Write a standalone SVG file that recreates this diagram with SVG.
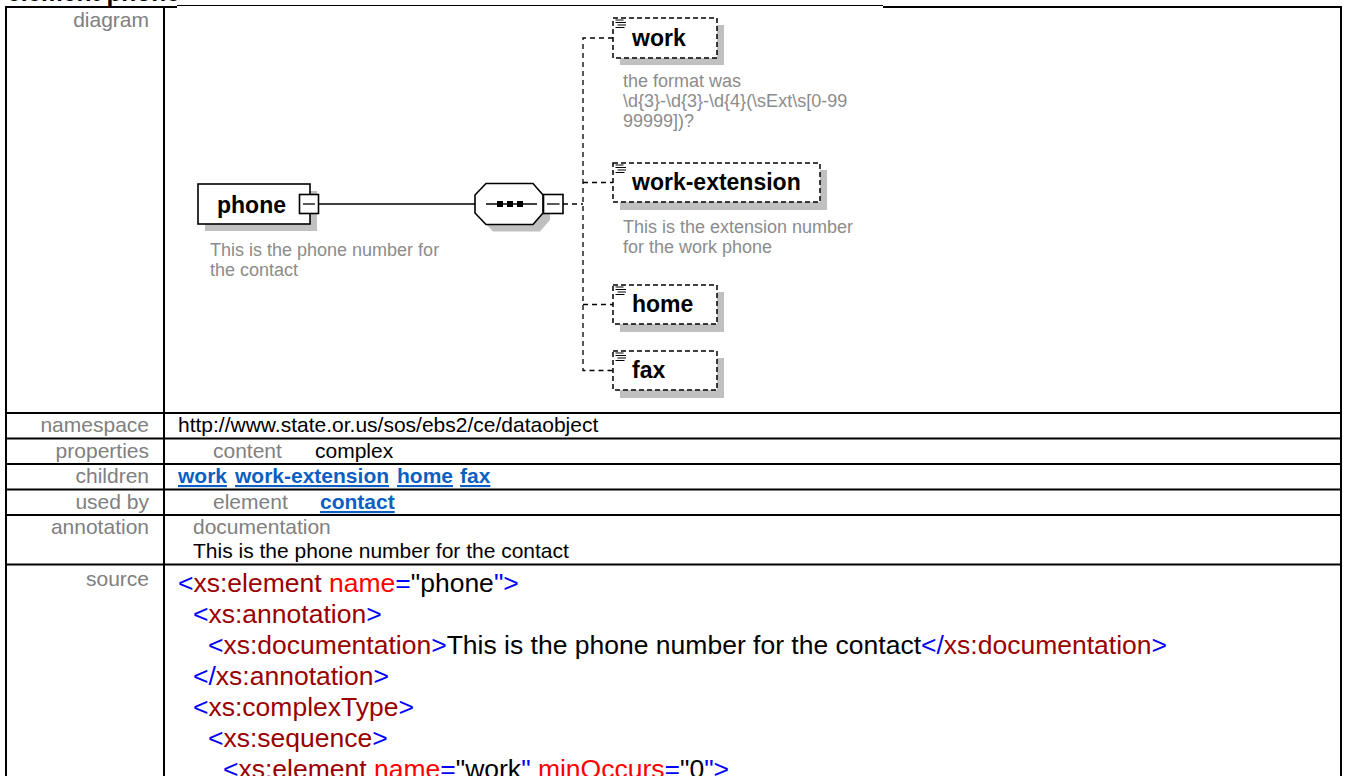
<svg xmlns="http://www.w3.org/2000/svg" width="1346" height="776" viewBox="0 0 1346 776">
<style>
text{font-family:"Liberation Sans",Arial,sans-serif}
.lbl{font-size:21px;fill:#808080;text-anchor:end}
.val{font-size:21px;fill:#000}
.sub{font-size:21px;fill:#808080}
.lnk{font-size:21px;font-weight:bold;fill:#0b5fc2;text-decoration:underline}
.code{font-size:26.5px}
.m{fill:#0000ff}.e{fill:#990000}.a{fill:#ff0000}.t{fill:#000}
.nm{font-size:23px;font-weight:bold;fill:#000}
.ds{font-size:18px;fill:#8c8c8c}
.sh{fill:#c0c0c0}
.bx{fill:#fff;stroke:#000;stroke-width:1.6}
.dbx{fill:#fff;stroke:#000;stroke-width:1.5;stroke-dasharray:5 3}
.cn{stroke:#000;stroke-width:1.3;fill:none}
.dcn{stroke:#000;stroke-width:1.3;fill:none;stroke-dasharray:5 4}
.ic{stroke:#000;stroke-width:1.2}
.tb{stroke:#000;stroke-width:2;fill:none}
</style>
<defs>
<g id="icon"><path class="ic" d="M2.5 2h8M2.5 4.5h10.5M4.5 7h8.5M2.5 9.5h9"/></g>
</defs>
<rect width="1346" height="776" fill="#fff"/>
<text x="7" y="0.5" style="font-size:24.5px;font-weight:bold">element phone</text>
<g id="table">
<path class="tb" d="M5 7H177M883 7H1342"/>
<path d="M177 5.5H883" stroke="#000" stroke-width="1"/>
<path class="tb" d="M6 6V776M164 7V776M1341 6V776"/>
<path class="tb" d="M6 413H1341M6 438.5H1341M6 464H1341M6 489.5H1341M6 515H1341M6 564.5H1341"/>
<text class="lbl" x="149" y="27">diagram</text>
<text class="lbl" x="149" y="432">namespace</text>
<text class="lbl" x="149" y="458">properties</text>
<text class="lbl" x="149" y="483">children</text>
<text class="lbl" x="149" y="509">used by</text>
<text class="lbl" x="149" y="534">annotation</text>
<text class="lbl" x="149" y="586">source</text>
<text class="val" x="178" y="432">http://www.state.or.us/sos/ebs2/ce/dataobject</text>
<text class="sub" x="213" y="458">content</text>
<text class="val" x="315" y="458">complex</text>
<text class="lnk" x="178" y="483">work</text>
<text class="lnk" x="235" y="483">work-extension</text>
<text class="lnk" x="397" y="483">home</text>
<text class="lnk" x="460" y="483">fax</text>
<text class="sub" x="213" y="509">element</text>
<text class="lnk" x="320" y="509">contact</text>
<text class="sub" x="193" y="534">documentation</text>
<text class="val" x="193" y="558">This is the phone number for the contact</text>
<text class="code" x="178" y="592"><tspan class="m">&lt;</tspan><tspan class="e">xs:element</tspan><tspan class="a"> name</tspan><tspan class="m">=</tspan><tspan class="t">"phone</tspan><tspan class="m">"&gt;</tspan></text>
<text class="code" x="193" y="623"><tspan class="m">&lt;</tspan><tspan class="e">xs:annotation</tspan><tspan class="m">&gt;</tspan></text>
<text class="code" x="208" y="654"><tspan class="m">&lt;</tspan><tspan class="e">xs:documentation</tspan><tspan class="m">&gt;</tspan><tspan class="t">This is the phone number for the contact</tspan><tspan class="m">&lt;/</tspan><tspan class="e">xs:documentation</tspan><tspan class="m">&gt;</tspan></text>
<text class="code" x="193" y="685"><tspan class="m">&lt;/</tspan><tspan class="e">xs:annotation</tspan><tspan class="m">&gt;</tspan></text>
<text class="code" x="193" y="716"><tspan class="m">&lt;</tspan><tspan class="e">xs:complexType</tspan><tspan class="m">&gt;</tspan></text>
<text class="code" x="208" y="747"><tspan class="m">&lt;</tspan><tspan class="e">xs:sequence</tspan><tspan class="m">&gt;</tspan></text>
<text class="code" x="223" y="778"><tspan class="m">&lt;</tspan><tspan class="e">xs:element</tspan><tspan class="a"> name</tspan><tspan class="m">=</tspan><tspan class="t">"work</tspan><tspan class="m">"</tspan><tspan class="a"> minOccurs</tspan><tspan class="m">=</tspan><tspan class="t">"0</tspan><tspan class="m">"&gt;</tspan></text>
</g>
<g id="connectors">
<path class="cn" d="M319 204H475"/>
<path class="dcn" d="M563 204H583"/>
<path class="dcn" d="M613 38H583V370.5H613"/>
<path class="dcn" d="M583 182.5H613"/>
<path class="dcn" d="M583 304.5H613"/>
</g>
<g id="node-phone">
<rect class="sh" x="205" y="191" width="112" height="40"/>
<rect class="bx" x="198" y="184" width="112" height="40"/>
<text class="nm" x="217" y="213">phone</text>
<rect class="bx" x="299.5" y="194.5" width="19" height="19" stroke-width="1.3"/>
<path class="cn" d="M303 204H315"/>
<text class="ds" x="210" y="256">This is the phone number for</text>
<text class="ds" x="210" y="276">the contact</text>
</g>
<g id="node-sequence">
<polygon class="sh" points="482,202 493,190.5 540,190.5 550,202 550,220 540,231.5 493,231.5 482,220"/>
<polygon class="bx" points="475,195 486,183.5 533,183.5 543,195 543,213 533,224.5 486,224.5 475,213" stroke-width="1.3"/>
<path class="cn" d="M486 204H537"/>
<rect x="497" y="201" width="6" height="6"/>
<rect x="507" y="201" width="6" height="6"/>
<rect x="517" y="201" width="6" height="6"/>
<rect class="bx" x="543.5" y="194.5" width="19.5" height="19" stroke-width="1.3"/>
<path class="cn" d="M547 204H559.5"/>
</g>
<g id="node-work">
<rect class="sh" x="620" y="25" width="104" height="40"/>
<rect class="dbx" x="613" y="18" width="104" height="40"/>
<use href="#icon" x="613" y="18"/>
<text class="nm" x="632" y="46">work</text>
<text class="ds" x="623" y="87">the format was</text>
<text class="ds" x="623" y="107">\d{3}-\d{3}-\d{4}(\sExt\s[0-99</text>
<text class="ds" x="623" y="127">99999])?</text>
</g>
<g id="node-work-extension">
<rect class="sh" x="620" y="170" width="207" height="40"/>
<rect class="dbx" x="613" y="163" width="207" height="39"/>
<use href="#icon" x="613" y="163"/>
<text class="nm" x="632" y="190">work-extension</text>
<text class="ds" x="623" y="233">This is the extension number</text>
<text class="ds" x="623" y="253">for the work phone</text>
</g>
<g id="node-home">
<rect class="sh" x="620" y="292" width="104" height="40"/>
<rect class="dbx" x="613" y="285" width="104" height="39"/>
<use href="#icon" x="613" y="285"/>
<text class="nm" x="632" y="311.5">home</text>
</g>
<g id="node-fax">
<rect class="sh" x="620" y="358" width="104" height="40"/>
<rect class="dbx" x="613" y="351" width="104" height="39"/>
<use href="#icon" x="613" y="351"/>
<text class="nm" x="632" y="377.5">fax</text>
</g>
</svg>
